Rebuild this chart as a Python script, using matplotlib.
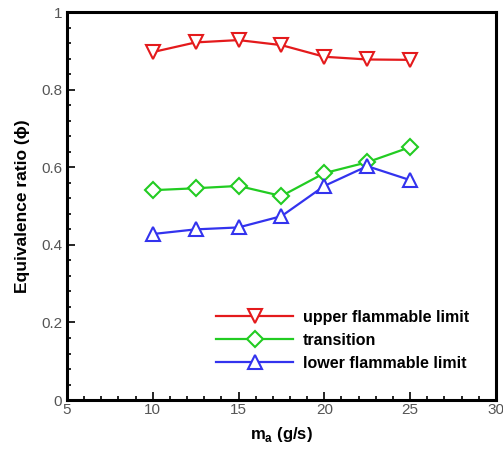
import matplotlib
matplotlib.use("Agg")
import matplotlib.pyplot as plt
from matplotlib.ticker import MultipleLocator

plt.rcParams['font.family'] = ['Liberation Sans', 'DejaVu Sans']

mass_flow = [10, 12.5, 15, 17.5, 20, 22.5, 25]
upper_limit = [0.897, 0.922, 0.928, 0.915, 0.885, 0.878, 0.877]
transition = [0.541, 0.546, 0.552, 0.526, 0.585, 0.613, 0.652]
lower_limit = [0.428, 0.440, 0.445, 0.474, 0.552, 0.603, 0.567]

fig = plt.figure(figsize=(5.03, 4.5), dpi=100)
ax = fig.add_axes([0.133, 0.111, 0.853, 0.862])

ms = 10
mew = 1.5
lw = 1.6
ax.plot(mass_flow, upper_limit, color='#e41a1c', marker='v', ms=ms, mfc='white',
        mew=mew, lw=lw, label='upper flammable limit')
ax.plot(mass_flow, transition, color='#22cc22', marker='D', ms=ms*0.85, mfc='white',
        mew=mew, lw=lw, label='transition')
ax.plot(mass_flow, lower_limit, color='#3333ee', marker='^', ms=ms, mfc='white',
        mew=mew, lw=lw, label='lower flammable limit')

ax.set_xlim(5, 30)
ax.set_ylim(0, 1)
ax.xaxis.set_major_locator(MultipleLocator(5))
ax.xaxis.set_minor_locator(MultipleLocator(1))
ax.yaxis.set_minor_locator(MultipleLocator(0.04))
ax.set_yticks([0, 0.2, 0.4, 0.6, 0.8, 1.0])
ax.set_yticklabels(['0', '0.2', '0.4', '0.6', '0.8', '1'])
ax.tick_params(which='both', direction='in', top=False, right=False,
               labelsize=11, labelcolor='#555555', width=1.2)
ax.tick_params(which='major', length=6)
ax.tick_params(which='minor', length=3)
ax.tick_params(axis='x', pad=2)
for sp in ax.spines.values():
    sp.set_linewidth(2.2)

ax.set_xlabel(r'm$_{\mathregular{a}}$ (g/s)', fontsize=12, fontweight='bold', labelpad=6)
ax.set_ylabel('Equivalence ratio (\u03d5)', fontsize=12.5, fontweight='bold', labelpad=8)

leg = ax.legend(loc='lower left', bbox_to_anchor=(0.315, 0.038), frameon=False,
                handlelength=4.8, handletextpad=0.6, labelspacing=0.5,
                prop={'weight': 'bold', 'size': 11.5})

fig.savefig('out.png', dpi=100)
